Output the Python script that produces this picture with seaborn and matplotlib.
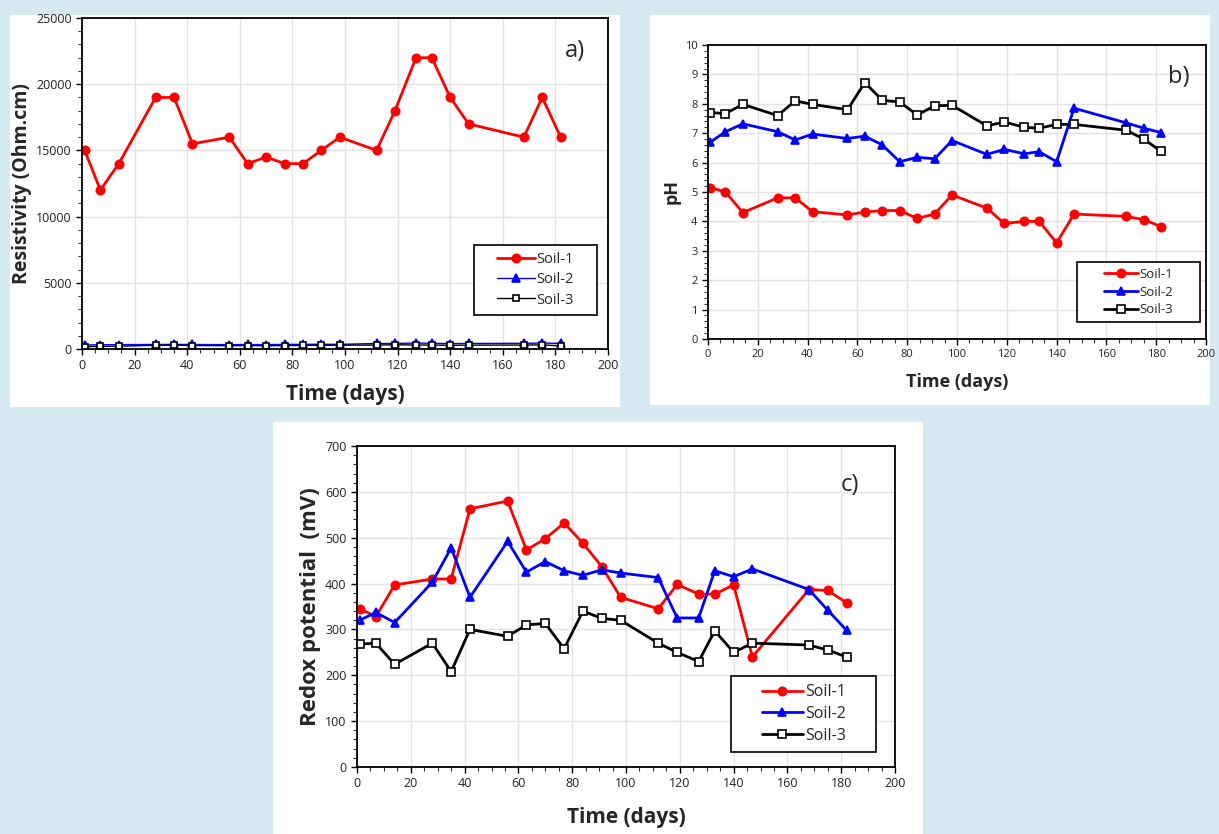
import numpy as np
import pandas as pd
import matplotlib
matplotlib.use('Agg')
import matplotlib.pyplot as plt
import seaborn as sns
from matplotlib.patches import Rectangle
from matplotlib.ticker import MultipleLocator

# ── Data ──────────────────────────────────────────────────────────────────────
days = [1, 7, 14, 28, 35, 42, 56, 63, 70, 77, 84, 91, 98, 112, 119, 127, 133,
        140, 147, 168, 175, 182]

res_soil1 = [15000, 12000, 14000, 19000, 19000, 15500, 16000, 14000, 14500, 14000,
             14000, 15000, 16000, 15000, 18000, 22000, 22000, 19000, 17000, 16000,
             19000, 16000]
res_soil2 = [300, 320, 330, 340, 350, 340, 330, 340, 330, 350, 350, 360, 350, 420,
             420, 450, 430, 410, 420, 430, 450, 420]
res_soil3 = [180, 200, 210, 280, 290, 260, 250, 260, 240, 260, 270, 280, 290, 300,
             320, 300, 300, 280, 290, 300, 310, 240]

ph_soil1 = [5.15, 5.0, 4.3, 4.8, 4.8, 4.33, 4.22, 4.32, 4.37, 4.37, 4.1, 4.25, 4.9,
            4.45, 3.93, 4.0, 4.0, 3.27, 4.25, 4.17, 4.06, 3.82]
ph_soil2 = [6.7, 7.05, 7.32, 7.05, 6.77, 6.97, 6.82, 6.9, 6.6, 6.03, 6.18, 6.13, 6.75,
            6.28, 6.45, 6.3, 6.37, 6.03, 7.85, 7.35, 7.17, 7.02]
ph_soil3 = [7.7, 7.67, 7.98, 7.6, 8.1, 7.98, 7.8, 8.72, 8.12, 8.06, 7.62, 7.93, 7.95,
            7.25, 7.38, 7.2, 7.17, 7.3, 7.3, 7.1, 6.8, 6.38]

redox_soil1 = [345, 328, 397, 410, 410, 563, 580, 473, 498, 532, 488, 437, 370, 345,
               398, 377, 377, 397, 240, 387, 385, 358]
redox_soil2 = [320, 337, 315, 403, 478, 370, 492, 425, 448, 428, 418, 430, 423, 413,
               325, 325, 428, 415, 432, 387, 342, 298]
redox_soil3 = [268, 270, 224, 270, 208, 300, 285, 310, 313, 258, 340, 324, 320, 270,
               250, 230, 297, 250, 270, 266, 255, 240]

soils = ["Soil-1", "Soil-2", "Soil-3"]

# ── Style ─────────────────────────────────────────────────────────────────────
sns.set_style("white")
plt.rcParams['font.family'] = ['Open Sans', 'DejaVu Sans']

W, H = 1219, 834
fig = plt.figure(figsize=(W / 100, H / 100), dpi=100)
fig.patch.set_facecolor('#d6ebf1')


def px_axes(l, t, r, b):
    return fig.add_axes([l / W, 1 - b / H, (r - l) / W, (b - t) / H])


def px_box(l, t, r, b):
    return (l / W, 1 - b / H, (r - l) / W, (b - t) / H)


def panel(l, t, r, b):
    x0, y0, w, h = px_box(l, t, r, b)
    fig.patches.append(Rectangle((x0, y0), w, h, transform=fig.transFigure,
                                 facecolor='white', edgecolor='none', zorder=-10))


panel(10, 15, 620, 407)
panel(650, 15, 1210, 405)
panel(273, 422, 923, 834)


def draw(ax, series, thin23, ylim, ymajor, yminor, ylabel, tag, tag_xy, tick_fs,
         xlab_fs, ylab_fs, labpad, leg_fs, leg_box, hlen):
    specs = [
        dict(color='#ff0000', marker='o', mfc='#ff0000', mec='#ff0000', lw=2.0, ms=6),
        dict(color='#0000ff', marker='^', mfc='#0000ff', mec='#0000ff',
             lw=1.0 if thin23 else 2.0, ms=5.5),
        dict(color='black', marker='s', mfc='white', mec='black',
             lw=1.0 if thin23 else 2.0, ms=5 if thin23 else 5.5),
    ]
    for name, vals, sp in zip(soils, series, specs):
        df = pd.DataFrame({'day': days, 'val': vals})
        sns.lineplot(data=df, x='day', y='val', ax=ax, color=sp['color'],
                     marker=sp['marker'], markerfacecolor=sp['mfc'],
                     markeredgecolor=sp['mec'], markeredgewidth=1.2,
                     linewidth=sp['lw'], markersize=sp['ms'], label=name)
    ax.set_xlim(0, 200)
    ax.set_ylim(*ylim)
    ax.xaxis.set_major_locator(MultipleLocator(20))
    ax.xaxis.set_minor_locator(MultipleLocator(5))
    ax.yaxis.set_major_locator(MultipleLocator(ymajor))
    ax.yaxis.set_minor_locator(MultipleLocator(yminor))
    ax.grid(True, which='major', color='#e3e3e3', lw=1.0)
    ax.set_axisbelow(True)
    for s in ax.spines.values():
        s.set_color('black')
        s.set_linewidth(1.3)
    ax.tick_params(which='major', direction='out', length=4, width=1,
                   labelsize=tick_fs, colors='black', labelcolor='#222222',
                   bottom=True, left=True)
    ax.tick_params(which='minor', direction='out', length=3, width=0.8,
                   bottom=True, left=True, colors='#333333')
    ax.set_xlabel('Time (days)', fontsize=xlab_fs, fontweight='bold',
                  labelpad=labpad)
    ax.set_ylabel(ylabel, fontsize=ylab_fs, fontweight='bold', labelpad=3)
    ax.text(tag_xy[0], tag_xy[1], tag, transform=ax.transAxes, fontsize=17,
            ha='center', va='center')

    # legend frame drawn as its own box, entries centred inside it
    x0, y0, w, h = px_box(*leg_box)
    ax.add_patch(Rectangle((x0, y0), w, h, transform=fig.transFigure,
                           facecolor='white', edgecolor='black', lw=1.2,
                           zorder=4, clip_on=False))
    leg = ax.legend(loc='center', bbox_to_anchor=(x0 + w / 2, y0 + h / 2),
                    bbox_transform=fig.transFigure, fontsize=leg_fs,
                    frameon=False, handlelength=hlen, handletextpad=0.1,
                    borderpad=0, labelspacing=0.35, borderaxespad=0)
    leg.set_zorder(5)
    return ax


ax_a = px_axes(82, 18, 608, 349)
draw(ax_a, [res_soil1, res_soil2, res_soil3], True, (0, 25000), 5000, 1000,
     'Resistivity (Ohm.cm)', 'a)', (0.937, 0.90), 9, 15, 14, 8, 10.5,
     (474, 245, 597, 315), 2.6)

ax_b = px_axes(708, 45, 1206, 339)
draw(ax_b, [ph_soil1, ph_soil2, ph_soil3], False, (0, 10), 1, 0.2,
     'pH', 'b)', (0.946, 0.89), 8, 13, 13, 9, 9.5,
     (1077, 262, 1200, 322), 2.6)

ax_c = px_axes(357, 446, 895, 767)
draw(ax_c, [redox_soil1, redox_soil2, redox_soil3], False, (0, 700), 100, 20,
     'Redox potential  (mV)', 'c)', (0.916, 0.878), 9, 15, 16, 12, 11.5,
     (731, 676, 876, 752), 2.6)

fig.savefig('out.png', dpi=100, facecolor=fig.get_facecolor())
